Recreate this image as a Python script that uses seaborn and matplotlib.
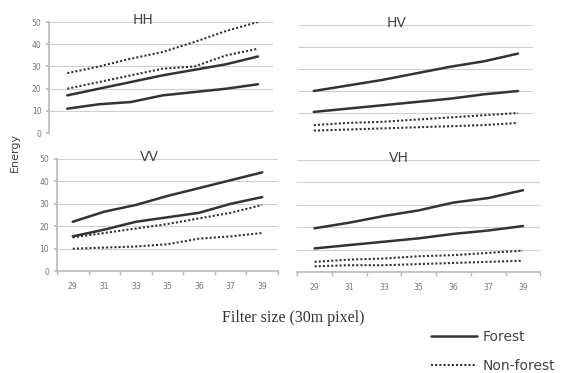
import numpy as np
import pandas as pd
import seaborn as sns
import matplotlib
matplotlib.use("Agg")
import matplotlib.pyplot as plt
from matplotlib.lines import Line2D

categories = ["29", "31", "33", "35", "36", "37", "39"]

hh_forest_a = [17, 20, 23, 26, 28.5, 31, 34.5]
hh_forest_b = [11, 13, 14, 17, 18.5, 20, 22]
hh_nonforest_a = [27, 30, 33.5, 36.5, 41, 46, 50]
hh_nonforest_b = [20, 23, 26, 29, 30, 35, 38]

hv_forest_a = [20, 22.5, 25, 28, 31, 33.5, 37]
hv_forest_b = [10.5, 12, 13.5, 15, 16.5, 18.5, 20]
hv_nonforest_a = [4.5, 5.5, 6, 7, 8, 9, 10]
hv_nonforest_b = [2, 2.5, 3, 3.5, 4, 4.5, 5.5]

vv_forest_a = [22, 26.5, 29.5, 33.5, 37, 40.5, 44]
vv_forest_b = [15.5, 18.5, 22, 24, 26, 30, 33]
vv_nonforest_a = [15, 17, 19, 21, 23.5, 26, 29.5]
vv_nonforest_b = [10, 10.5, 11, 12, 14.5, 15.5, 17]

vh_forest_a = [19.5, 22, 25, 27.5, 31, 33, 36.5]
vh_forest_b = [10.5, 12, 13.5, 15, 17, 18.5, 20.5]
vh_nonforest_a = [4.5, 5.5, 6, 7, 7.5, 8.5, 9.5]
vh_nonforest_b = [2.5, 3, 3, 3.5, 4, 4.5, 5]

panels = {
    "HH": (hh_forest_a, hh_forest_b, hh_nonforest_a, hh_nonforest_b),
    "HV": (hv_forest_a, hv_forest_b, hv_nonforest_a, hv_nonforest_b),
    "VV": (vv_forest_a, vv_forest_b, vv_nonforest_a, vv_nonforest_b),
    "VH": (vh_forest_a, vh_forest_b, vh_nonforest_a, vh_nonforest_b),
}

sns.set_theme(style="white")
plt.rcParams['font.family'] = ['DejaVu Sans']

fig = plt.figure(figsize=(5.64, 3.73), dpi=100)
fig.patch.set_facecolor("white")

pos = {
    "HH": [0.087, 0.643, 0.397, 0.298],
    "HV": [0.528, 0.638, 0.417, 0.295],
    "VV": [0.101, 0.273, 0.392, 0.301],
    "VH": [0.527, 0.271, 0.431, 0.300],
}
xl = {
    "HH": (-0.57, 6.47),
    "HV": (-0.47, 6.44),
    "VV": (-0.15, 6.42),
    "VH": (-0.46, 6.49),
}

line_col = "#333333"
grid_col = "#d0d0d0"
x = np.arange(len(categories))

for name, series in panels.items():
    ax = fig.add_axes(pos[name])
    rows = []
    for i, vals in enumerate(series):
        cls = "Forest" if i < 2 else "Non-forest"
        for xi, v in zip(x, vals):
            rows.append({"x": xi, "y": v, "series": f"s{i}", "cls": cls})
    df = pd.DataFrame(rows)
    for sid, sub in df.groupby("series"):
        forest = sub["cls"].iloc[0] == "Forest"
        sns.lineplot(data=sub, x="x", y="y", ax=ax, color=line_col,
                     linewidth=1.8 if forest else 1.5,
                     linestyle="-" if forest else (0, (1, 1)),
                     legend=False)
    ax.set_xlim(*xl[name])
    ax.set_ylim(0, 50)
    ax.set_yticks(range(0, 51, 10))
    ax.yaxis.grid(True, color=grid_col, linewidth=0.8)
    ax.xaxis.grid(False)
    ax.set_axisbelow(True)
    for s in ["top", "right"]:
        ax.spines[s].set_visible(False)
    ax.set_xlabel("")
    ax.set_ylabel("")
    left = name in ("HH", "VV")
    bottom = name in ("VV", "VH")
    ax.spines["left"].set_visible(left)
    ax.spines["left"].set_color("#bbbbbb")
    ax.spines["bottom"].set_visible(bottom)
    ax.spines["bottom"].set_color("#bbbbbb")
    if left:
        ax.tick_params(axis="y", labelsize=5.5, labelcolor="#777777", length=2, color="#bbbbbb", left=True)
    else:
        ax.tick_params(axis="y", labelleft=False, length=0)
    ax.set_xticks(x)
    if bottom:
        ax.set_xticklabels(categories)
        ax.set_xticks(np.arange(-0.5, 7.0, 1.0), minor=True)
        ax.tick_params(axis="x", which="major", length=0, labelsize=5.5, labelcolor="#777777", pad=8)
        ax.tick_params(axis="x", which="minor", length=3, color="#bbbbbb", bottom=True)
    else:
        ax.tick_params(axis="x", labelbottom=False, length=0)
    ax.text(0.42, 1.02, name, transform=ax.transAxes, ha="center", va="center",
            fontsize=10, color="#444444")

fig.text(0.027, 0.592, "Energy", rotation=90, ha="center", va="center",
         fontsize=8, color="#444444")
fig.text(0.52, 0.148, "Filter size (30m pixel)", ha="center", va="center",
         fontsize=11.5, color="#333333", family="Liberation Serif")

handles = [Line2D([], [], color=line_col, linewidth=1.8, linestyle="-"),
           Line2D([], [], color=line_col, linewidth=1.5, linestyle=(0, (1, 1)))]
fig.legend(handles, ["Forest", "Non-forest"], loc="upper left",
           bbox_to_anchor=(431 / 564, 1 - 330 / 373), frameon=False, fontsize=10,
           handlelength=3.3, labelspacing=1.1, handletextpad=0.4,
           borderpad=0, borderaxespad=0, labelcolor="#444444")

fig.savefig("out.png", dpi=100, facecolor="white")
